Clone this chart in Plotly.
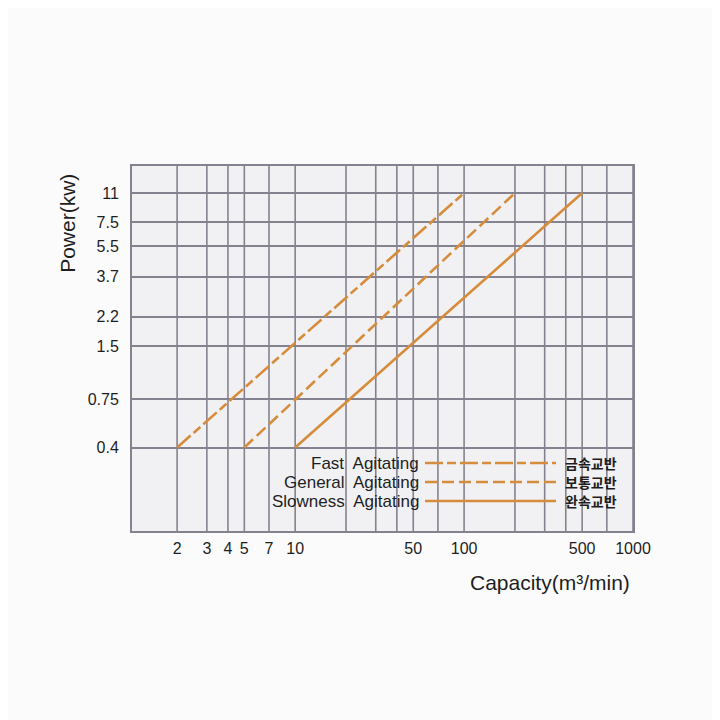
import plotly.graph_objects as go

# ---- data ----
x_ticks = [2, 3, 4, 5, 7, 10, 50, 100, 500, 1000]
x_tick_labels = ["2", "3", "4", "5", "7", "10", "50", "100", "500", "1000"]
x_grid = [2, 3, 4, 5, 7, 10, 20, 30, 40, 50, 70, 100, 200, 300, 400, 500, 700, 1000]
y_ticks = [0.4, 0.75, 1.5, 2.2, 3.7, 5.5, 7.5, 11]
y_tick_labels = ["0.4", "0.75", "1.5", "2.2", "3.7", "5.5", "7.5", "11"]

fast_x = [2, 100]
fast_y = [0.4, 11]
general_x = [5, 200]
general_y = [0.4, 11]
slow_x = [10, 500]
slow_y = [0.4, 11]

series_en = ["Fast  Agitating", "General  Agitating", "Slowness  Agitating"]
series_ko = ["금속교반", "보통교반", "완속교반"]

LINE = "#d68c3a"
GRID = "#85828f"
FONT = "Liberation Sans, Arial, sans-serif"
TXT = "#1e1e1e"
dashes = ["18px,4px,9px,4px", "12px,5px", "solid"]

fig = go.Figure()
for xs, ys, name, d in [(fast_x, fast_y, series_en[0], dashes[0]),
                        (general_x, general_y, series_en[1], dashes[1]),
                        (slow_x, slow_y, series_en[2], dashes[2])]:
    fig.add_trace(go.Scatter(x=xs, y=ys, mode="lines", name=name,
                             line=dict(color=LINE, width=2.6, dash=d),
                             showlegend=False))

# vertical grid lines
for gx in x_grid:
    fig.add_shape(type="line", xref="x", yref="paper", x0=gx, x1=gx, y0=0, y1=1,
                  line=dict(color=GRID, width=1.6), layer="below")

fig.update_layout(
    width=712, height=712,
    paper_bgcolor="#fbfbfb", plot_bgcolor="#f1f1f4",
    margin=dict(l=124, r=87, t=158, b=189),
    font=dict(family=FONT, size=16, color=TXT),
    xaxis=dict(type="log", range=[0.034, 3.0], tickvals=x_ticks, ticktext=x_tick_labels,
               showgrid=False, zeroline=False, showline=True, mirror=True,
               linecolor=GRID, linewidth=2, ticks="", ticklabelstandoff=2,
               tickfont=dict(size=16, family=FONT, color=TXT)),
    yaxis=dict(type="log", range=[-0.87, 1.194], tickvals=y_ticks, ticktext=y_tick_labels,
               showgrid=True, gridcolor=GRID, gridwidth=1.6, zeroline=False,
               showline=True, mirror=True, linecolor=GRID, linewidth=2, ticks="",
               ticklabelstandoff=8,
               tickfont=dict(size=16, family=FONT, color=TXT)),
)

# axis titles
fig.add_annotation(text="Power(kw)", xref="paper", yref="paper", x=-0.128, y=0.844,
                   xanchor="center", yanchor="middle", textangle=-90, showarrow=False,
                   font=dict(size=21, family=FONT, color=TXT))
fig.add_annotation(text="Capacity(m³/min)",
                   xref="paper", yref="paper", x=0.998, y=-0.142,
                   xanchor="right", yanchor="middle", showarrow=False,
                   font=dict(size=21, family=FONT, color=TXT))

# legend (manual)
rows_y = [463, 482, 501]
for i, ry in enumerate(rows_y):
    yp = 1 - (ry - 166) / (531 - 166)
    fig.add_annotation(text=series_en[i], xref="paper", yref="paper", x=(421 - 132) / 501, y=yp,
                       xanchor="right", yanchor="middle", showarrow=False,
                       font=dict(size=17, family=FONT, color=TXT))
    fig.add_annotation(text="<b>" + series_ko[i] + "</b>", xref="paper", yref="paper",
                       x=(563 - 132) / 501, y=yp,
                       xanchor="left", yanchor="middle", showarrow=False,
                       font=dict(size=14, family="Noto Sans CJK KR", color=TXT))
    fig.add_shape(type="line", xref="paper", yref="paper",
                  x0=(425 - 132) / 501, x1=(556 - 132) / 501, y0=yp, y1=yp,
                  line=dict(color=LINE, width=2.6, dash=dashes[i]))

fig.write_html("out.html")
